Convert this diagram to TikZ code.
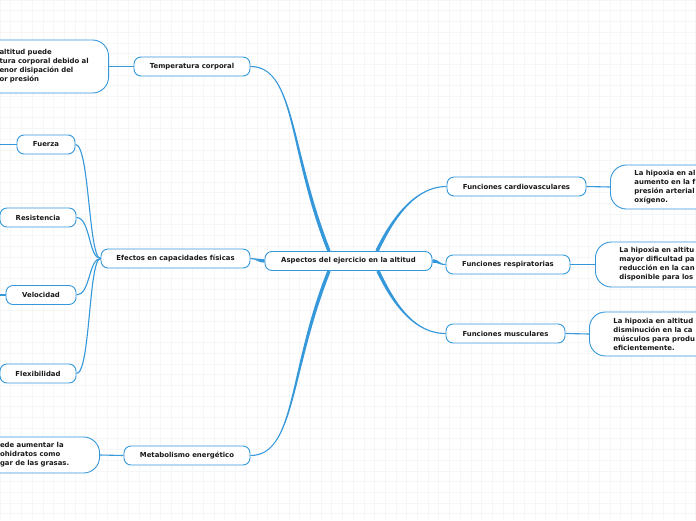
\documentclass[tikz,border=0pt]{standalone}
\usepackage{fontspec}
\setmainfont{DejaVu Sans}
\usetikzlibrary{calc}
\definecolor{mmblue}{RGB}{52,152,219}
\definecolor{gridc}{RGB}{246,246,246}
\definecolor{txt}{RGB}{25,25,25}
\pgfdeclarelayer{gridlayer}
\pgfdeclarelayer{bg}
\pgfsetlayers{gridlayer,bg,main}
\tikzset{
  topic/.style={draw=mmblue, line width=0.9pt, fill=white, rounded corners=7pt,
    minimum height=19pt, inner sep=0pt, text=txt,
    font=\bfseries\fontsize{6.9}{9}\selectfont},
  note/.style={draw=mmblue, line width=0.9pt, fill=white, rounded corners=16pt,
    inner ysep=0pt, align=left, text=txt,
    font=\bfseries\fontsize{6.9}{9}\selectfont},
  link/.style={draw=mmblue, line width=1.1pt},
}
\newcommand\mmtaper[4]{%
  \fill[mmblue] ($(#1)!0.55pt!90:(#2)$) .. controls ($(#2)!0.55pt!-90:(#1)$) and ($(#3)!1.7pt!90:(#4)$) .. ($(#4)!1.7pt!-90:(#3)$)
    -- ($(#4)!1.7pt!90:(#3)$) .. controls ($(#3)!1.7pt!-90:(#4)$) and ($(#2)!0.55pt!90:(#1)$) .. ($(#1)!0.55pt!-90:(#2)$) -- cycle;}
\begin{document}
\begin{tikzpicture}[x=1pt,y=-1pt]
\useasboundingbox (0,0) rectangle (696,520);
\clip (0,0) rectangle (696,520);
\begin{pgfonlayer}{gridlayer}
  \fill[white] (0,0) rectangle (696,520);
  \foreach \i in {0,...,65} \draw[gridc, line width=0.6pt] (\i*10.7,0) -- (\i*10.7,520);
  \foreach \j in {0,...,48} \draw[gridc, line width=0.6pt] (0,\j*10.7) -- (696,\j*10.7);
\end{pgfonlayer}

% main topics
\node[topic, minimum width=167pt] (central) at (348.5,261) {Aspectos del ejercicio en la altitud};
\node[topic, minimum width=116pt] (temp) at (192,66.5) {Temperatura corporal};
\node[topic, minimum width=149pt] (efectos) at (175.5,258.5) {Efectos en capacidades físicas};
\node[topic, minimum width=126pt] (metab) at (187,455.5) {Metabolismo energético};
\node[topic, minimum width=139pt] (cardio) at (516.5,186.5) {Funciones cardiovasculares};
\node[topic, minimum width=124pt] (resp) at (508,264.5) {Funciones respiratorias};
\node[topic, minimum width=119pt] (musc) at (505.5,333.5) {Funciones musculares};
% sub topics
\node[topic, minimum width=58pt] (fuerza) at (46,144.5) {Fuerza};
\node[topic, minimum width=76pt] (resist) at (38,217.5) {Resistencia};
\node[topic, minimum width=70pt] (veloc) at (41,295) {Velocidad};
\node[topic, minimum width=76pt] (flex) at (38,373.5) {Flexibilidad};
% notes
\node[note, anchor=west, minimum height=44pt, text width=100pt, inner xsep=24pt] (cardn) at (610,187)
  {La hipoxia en al\\aumento en la f\\presión arterial\\oxígeno.};
\node[note, anchor=west, minimum height=45pt, text width=100pt, inner xsep=24pt] (respn) at (595,264.5)
  {La hipoxia en altitu\\mayor dificultad pa\\reducción en la can\\disponible para los};
\node[note, anchor=west, minimum height=44pt, text width=100pt, inner xsep=24pt] (muscn) at (589,334)
  {La hipoxia en altitud\\disminución en la ca\\músculos para produ\\eficientemente.};
\node[note, anchor=east, minimum height=53pt, text width=90pt, inner xsep=19pt] (tempn) at (109,66.5)
  {altitud puede\\tura corporal debido al\\enor disipación del\\or presión};
\node[note, anchor=east, minimum height=36pt, text width=75.5pt, inner xsep=24pt] (metabn) at (100,455)
  {ede aumentar la\\ohidratos como\\gar de las grasas.};

\begin{pgfonlayer}{bg}
  \coordinate (ctl) at ($(central.north)+(-19.5,0)$);
  \coordinate (ctr) at ($(central.north)+(28.5,0)$);
  \coordinate (cbl) at ($(central.south)+(-19.5,0)$);
  \coordinate (cbr) at ($(central.south)+(29.5,0)$);
  \coordinate (t1) at ($(temp.east)+(45,0)$);
  \coordinate (t2) at ($(ctl)+(-40,-100)$);
  \coordinate (m1) at ($(metab.east)+(45,0)$);
  \coordinate (m2) at ($(cbl)+(-40,100)$);
  \coordinate (k1) at ($(cardio.west)+(-35,0)$);
  \coordinate (k2) at ($(ctr)+(12,-25)$);
  \coordinate (u1) at ($(musc.west)+(-35,0)$);
  \coordinate (u2) at ($(cbr)+(12,25)$);
  \coordinate (e1) at ($(efectos.east)+(7,0)$);
  \coordinate (e2) at ($(central.west)+(-7,0)$);
  \coordinate (r1) at ($(resp.west)+(-7,0)$);
  \coordinate (r2) at ($(central.east)+(7,0)$);
  \mmtaper{temp.east}{t1}{t2}{ctl}
  \mmtaper{metab.east}{m1}{m2}{cbl}
  \mmtaper{cardio.west}{k1}{k2}{ctr}
  \mmtaper{musc.west}{u1}{u2}{cbr}
  \mmtaper{efectos.east}{e1}{e2}{central.west}
  \mmtaper{resp.west}{r1}{r2}{central.east}
  \draw[link] (temp.west) -- (tempn.east);
  \draw[link] (metab.west) -- (metabn.east);
  \draw[link] (cardio.east) -- (cardn.west);
  \draw[link] (resp.east) -- (respn.west);
  \draw[link] (musc.east) -- (muscn.west);
  \foreach \n in {fuerza,resist,veloc,flex}
    \draw[link] (\n.east) .. controls +(14,0) and +(-12,0) .. (efectos.west);
  \coordinate (fz0) at (-5,144.5);
  \coordinate (vl0) at (-5,295);
  \draw[link] (fuerza.west) -- (fz0);
  \draw[link] (veloc.west) -- (vl0);
\end{pgfonlayer}
\end{tikzpicture}
\end{document}
